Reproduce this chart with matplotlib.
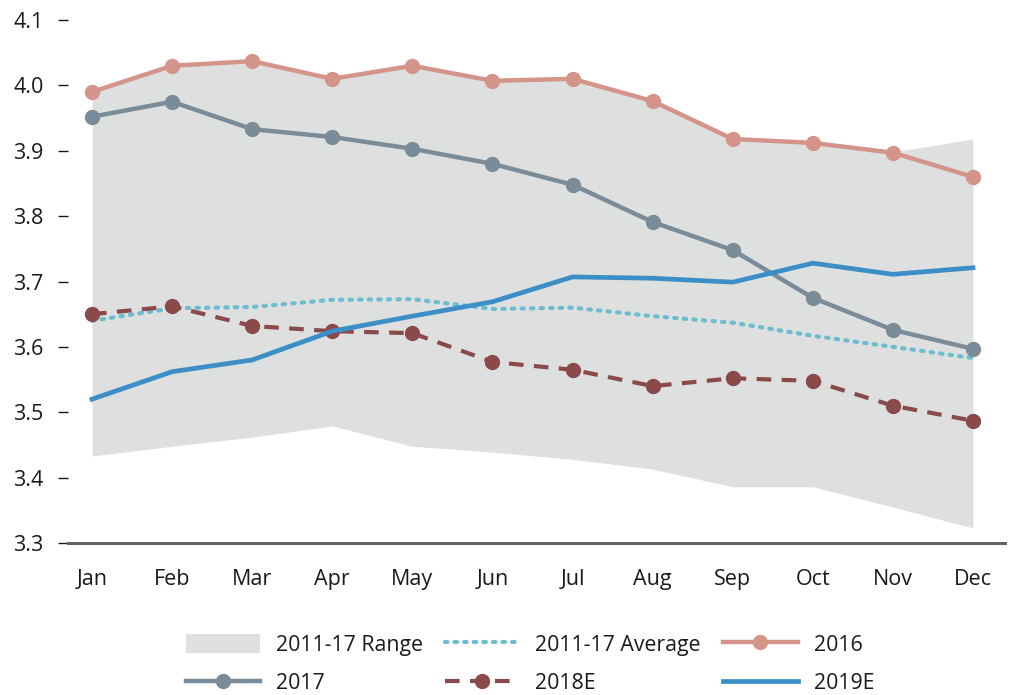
import matplotlib
matplotlib.use("Agg")
import matplotlib.pyplot as plt
from matplotlib.patches import Patch
from matplotlib.lines import Line2D

months = ["Jan", "Feb", "Mar", "Apr", "May", "Jun", "Jul", "Aug", "Sep", "Oct", "Nov", "Dec"]
range_low = [3.433, 3.448, 3.462, 3.479, 3.448, 3.439, 3.428, 3.413, 3.386, 3.386, 3.355, 3.323]
range_high = [3.990, 4.030, 4.037, 4.010, 4.030, 4.007, 4.010, 3.976, 3.918, 3.912, 3.898, 3.918]
avg_1117 = [3.640, 3.659, 3.661, 3.672, 3.673, 3.658, 3.660, 3.647, 3.637, 3.617, 3.600, 3.583]
y2016 = [3.990, 4.030, 4.037, 4.010, 4.030, 4.007, 4.010, 3.976, 3.918, 3.912, 3.897, 3.860]
y2017 = [3.952, 3.975, 3.933, 3.921, 3.903, 3.880, 3.848, 3.791, 3.748, 3.675, 3.626, 3.597]
y2018e = [3.650, 3.662, 3.632, 3.624, 3.621, 3.577, 3.565, 3.540, 3.552, 3.548, 3.510, 3.487]
y2019e = [3.520, 3.562, 3.580, 3.624, 3.647, 3.669, 3.707, 3.705, 3.699, 3.728, 3.711, 3.721]
yticks = [3.3, 3.4, 3.5, 3.6, 3.7, 3.8, 3.9, 4.0, 4.1]

plt.rcParams['font.family'] = ['Open Sans', 'DejaVu Sans']

C_RANGE = "#dee0df"
C_AVG = "#6dbcd0"
C_2016 = "#d4948a"
C_2017 = "#7a8b99"
C_2018 = "#8a4a4a"
C_2019 = "#3b8fc6"
TXT = "#1a1a1a"
FS_TICK = 15.5
FS_LEG = 15.3

fig = plt.figure(figsize=(10.13, 6.95), dpi=100)
ax = fig.add_axes([68/1013, 1-543/695, (1005-68)/1013, (543-20)/695])

x = list(range(len(months)))
ax.fill_between(x, range_low, range_high, color=C_RANGE, lw=0, zorder=1)
ax.plot(x, avg_1117, color=C_AVG, lw=3, linestyle=(0, (0.6, 1.7)), dash_capstyle='round', zorder=2)
ax.plot(x, y2016, color=C_2016, lw=3.2, marker='o', ms=10, zorder=3)
ax.plot(x, y2017, color=C_2017, lw=3.2, marker='o', ms=10, zorder=4)
ax.plot(x, y2018e, color=C_2018, lw=3, linestyle=(0, (3.5, 2.5)), marker='o', ms=10, zorder=5)
ax.plot(x, y2019e, color=C_2019, lw=3.4, zorder=6)

ax.set_xlim(-0.30, 11.40)
ax.set_ylim(3.3, 4.1)
ax.set_yticks(yticks)
ax.set_yticklabels([f"{v:.1f}" for v in yticks])
ax.set_xticks(x)
ax.set_xticklabels(months)

for s in ["top", "right", "left"]:
    ax.spines[s].set_visible(False)
ax.spines["bottom"].set_color("#5f6368")
ax.spines["bottom"].set_linewidth(2.2)

ax.tick_params(axis='y', direction='out', length=7.5, width=1, color=TXT, pad=10,
               labelsize=FS_TICK, labelcolor=TXT)
ax.tick_params(axis='x', length=0, pad=18.5, labelsize=FS_TICK, labelcolor=TXT)

handles = [
    Patch(facecolor=C_RANGE, edgecolor='none'),
    Line2D([], [], color=C_2017, lw=3.2, marker='o', ms=10),
    Line2D([], [], color=C_AVG, lw=3, linestyle=(0, (0.6, 1.7)), dash_capstyle='round'),
    Line2D([], [], color=C_2018, lw=3, linestyle=(0, (3.5, 2.5)), marker='o', ms=10),
    Line2D([], [], color=C_2016, lw=3.2, marker='o', ms=10),
    Line2D([], [], color=C_2019, lw=3.4),
]
labels = ["2011-17 Range", "2017", "2011-17 Average", "2018E", "2016", "2019E"]
fig.legend(handles, labels, ncol=3, loc='center', bbox_to_anchor=(0.523, 1-664/695),
           frameon=False, fontsize=FS_LEG, handlelength=3.5, handleheight=1.0,
           handletextpad=0.75, columnspacing=1.05, labelspacing=0.78, labelcolor=TXT)

fig.savefig("out.png", dpi=100)
